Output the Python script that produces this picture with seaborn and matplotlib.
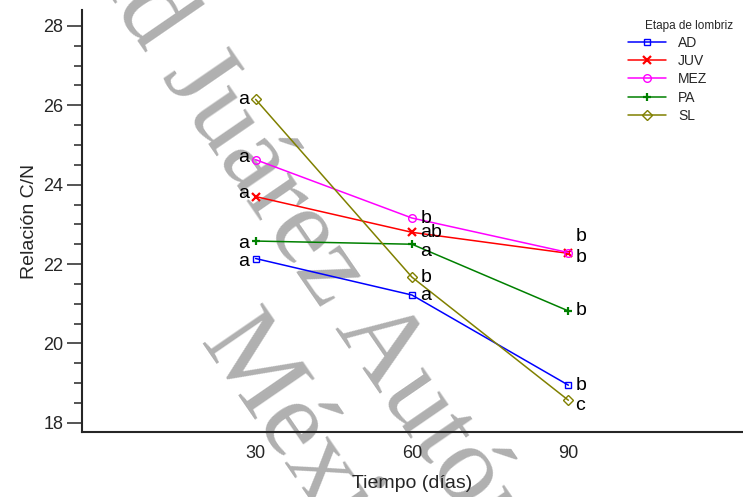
import numpy as np
import pandas as pd
import seaborn as sns
import matplotlib.pyplot as plt
from matplotlib.ticker import MultipleLocator

# Datos
dias = [30, 60, 90]
etapas = ['AD', 'JUV', 'MEZ', 'PA', 'SL']
ad = [22.14, 21.22, 18.95]
juv = [23.70, 22.80, 22.27]
mez = [24.63, 23.16, 22.29]
pa = [22.58, 22.50, 20.82]
sl = [26.15, 21.67, 18.57]
letras_ad = ['a', 'a', 'b']
letras_juv = ['a', 'ab', 'b']
letras_mez = ['a', 'b', 'b']
letras_pa = ['a', 'a', 'b']
letras_sl = ['a', 'b', 'c']

valores = [ad, juv, mez, pa, sl]
letras = [letras_ad, letras_juv, letras_mez, letras_pa, letras_sl]
colores = ['#0000ff', '#ff0000', '#ff00ff', '#008000', '#808000']
marcadores = ['s', 'x', 'o', '+', 'D']
tam_marcador = [5, 6, 5.5, 6, 5]
grosor_marcador = [1, 1.6, 1, 1.6, 1]

df = pd.DataFrame({'Tiempo': dias * len(etapas),
                   'CN': sum(valores, []),
                   'Etapa': np.repeat(etapas, len(dias))})

sns.set_style('ticks')
plt.rcParams['font.family'] = ['Liberation Sans', 'DejaVu Sans']

fig = plt.figure(figsize=(7.43, 4.97), dpi=100)
ax = fig.add_axes([82 / 743, 65 / 497, 661 / 743, 422 / 497])
ax.patch.set_visible(False)

# marca de agua
gris = '#b0b0b0'
wm = dict(fontsize=80, family='Liberation Serif', color=gris, rotation=-55.5,
          rotation_mode='anchor', va='baseline', zorder=-1)
fig.text(114 / 743, 1 - 7 / 497, 'Universida', ha='right', **wm)
fig.text(114 / 743, 1 - 7 / 497, 'd Juárez Autónoma de Tabasco', ha='left', **wm)
fig.text(198 / 743, 1 - 343 / 497, 'México.', ha='left', **wm)

for i, e in enumerate(etapas):
    sub = df[df['Etapa'] == e]
    sns.lineplot(data=sub, x='Tiempo', y='CN', color=colores[i], marker=marcadores[i],
                 ms=tam_marcador[i], mfc='none', mec=colores[i], mew=grosor_marcador[i],
                 lw=1.1, label=e, ax=ax)

# letras de significancia (desplazamientos en puntos)
dx = [-5, 6, 5]
dy = [[-2, 0, 0],      # AD
      [2, 0, 12],      # JUV
      [1.5, 0, -3.5],  # MEZ
      [-2, -5, 0],     # PA
      [0, 0, -3.5]]    # SL
for i in range(len(etapas)):
    for j in range(len(dias)):
        ax.annotate(letras[i][j], (dias[j], valores[i][j]), xytext=(dx[j], dy[i][j]),
                    textcoords='offset points', ha='right' if j == 0 else 'left',
                    va='center', fontsize=14, color='black')

ax.set_xlim(-3.3, 123.5)
ax.set_ylim(17.77, 28.4)
ax.set_xticks(dias)
ax.yaxis.set_major_locator(MultipleLocator(2))
ax.yaxis.set_minor_locator(MultipleLocator(0.5))
ax.tick_params(axis='x', length=0, pad=9, labelsize=13)
ax.tick_params(axis='y', which='major', length=10.5, width=1.1, pad=3, labelsize=13)
ax.tick_params(axis='y', which='minor', length=5.5, width=1.1)
for s in ['left', 'bottom']:
    ax.spines[s].set_linewidth(1.5)
sns.despine(ax=ax)

ax.set_xlabel('Tiempo (días)', fontsize=14, labelpad=10)
ax.set_ylabel('Relación C/N', fontsize=14, labelpad=4)

ax.legend(loc='upper left', bbox_to_anchor=(628 / 743, 1 - 36 / 497),
          bbox_transform=fig.transFigure, frameon=False, fontsize=10,
          handlelength=2.74, handletextpad=0.86, labelspacing=0.3,
          borderpad=0, borderaxespad=0)
fig.text(645 / 743, 1 - 26 / 497, 'Etapa de lombriz', fontsize=8.5, va='center', ha='left')

fig.savefig('out.png', dpi=100)
